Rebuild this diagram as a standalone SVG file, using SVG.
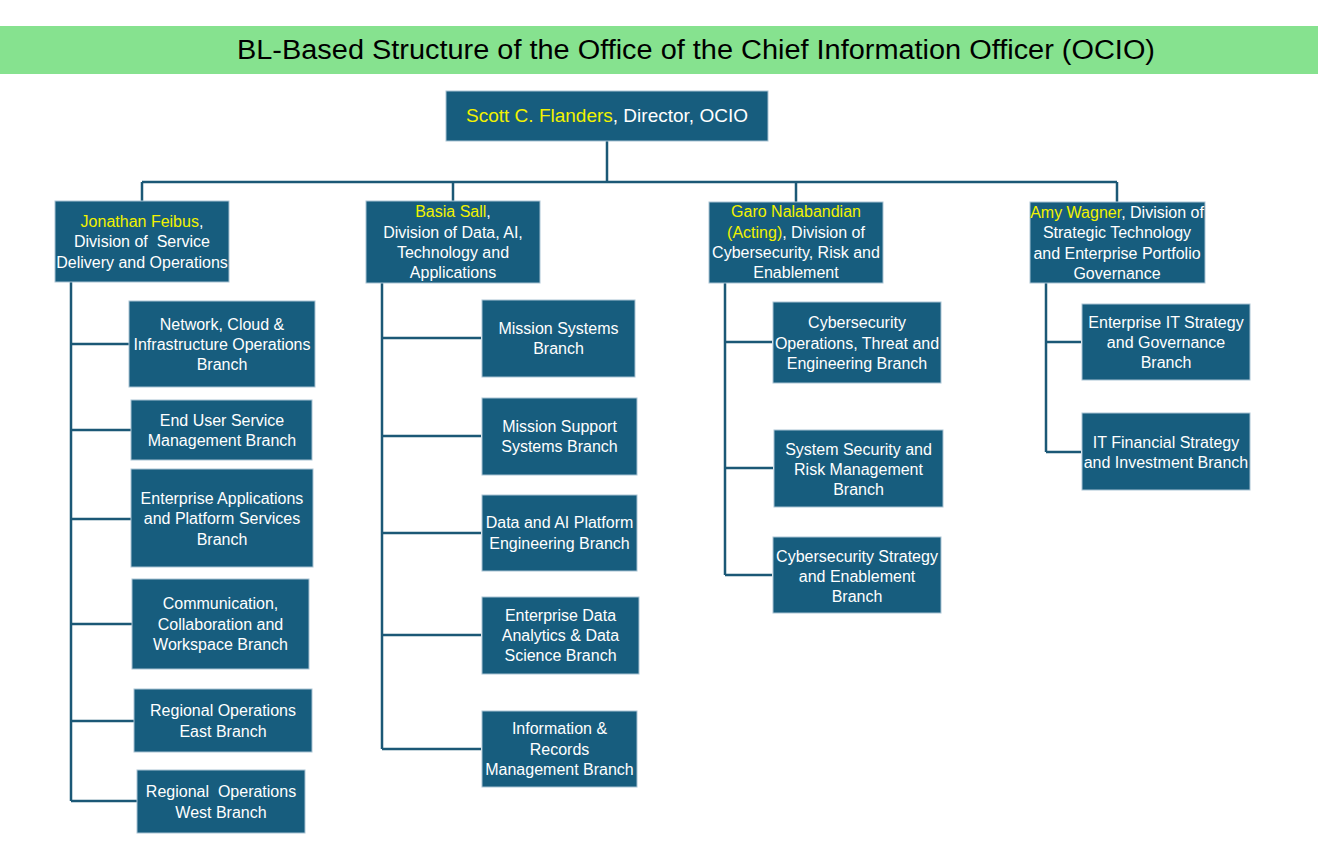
<svg xmlns="http://www.w3.org/2000/svg" width="1318" height="860" viewBox="0 0 1318 860">
<style>
.box{fill:#175D7E;stroke:#A9C3D3;stroke-width:1}
.t{font-family:"Liberation Sans",Arial,sans-serif;font-size:16px;fill:#FFFFFF;text-anchor:middle;white-space:pre}
.y{fill:#F2F200}
.conn{fill:none;stroke:#1B5876;stroke-width:2.5}
</style>
<rect x="0" y="26" width="1318" height="48" fill="#86E28F"/>
<text x="696" y="59" font-family="Liberation Sans,Arial,sans-serif" font-size="27" fill="#000000" text-anchor="middle" textLength="918" lengthAdjust="spacingAndGlyphs">BL-Based Structure of the Office of the Chief Information Officer (OCIO)</text>

<g id="connectors">
<path class="conn" d="M607 141V182M142 182H1117M142 182V201M453 182V201M796 182V202M1117 182V202"/>
<path class="conn" d="M71 282V801M71 344H129M71 430H131M71 519H131M71 624H132M71 721H134M71 801H137"/>
<path class="conn" d="M382 283V749M382 338H481M382 436H481M382 533H481M382 635H481M382 749H481"/>
<path class="conn" d="M725 283V575M725 342H772M725 468H773M725 575H772"/>
<path class="conn" d="M1046 283V452M1046 342H1081M1046 452H1081"/>
</g>

<g id="director">
<rect class="box" x="446" y="91" width="322" height="50"/>
<text class="t" x="607" y="122" style="font-size:19px"><tspan class="y">Scott C. Flanders</tspan>, Director, OCIO</text>
</g>

<g id="div-feibus">
<rect class="box" x="55" y="201" width="174" height="81"/>
<text class="t" x="142" y="227"><tspan class="y">Jonathan Feibus</tspan>,</text>
<text class="t" x="142" y="247">Division of  Service</text>
<text class="t" x="142" y="268">Delivery and Operations</text>
</g>

<g id="div-sall">
<rect class="box" x="366" y="201" width="174" height="82"/>
<text class="t" x="453" y="217"><tspan class="y">Basia Sall</tspan>,</text>
<text class="t" x="453" y="238">Division of Data, AI,</text>
<text class="t" x="453" y="258">Technology and</text>
<text class="t" x="453" y="278">Applications</text>
</g>

<g id="div-nalabandian">
<rect class="box" x="709" y="202" width="174" height="81"/>
<text class="t" x="796" y="217"><tspan class="y">Garo Nalabandian</tspan></text>
<text class="t" x="796" y="238"><tspan class="y">(Acting)</tspan>, Division of</text>
<text class="t" x="796" y="258">Cybersecurity, Risk and</text>
<text class="t" x="796" y="278">Enablement</text>
</g>

<g id="div-wagner">
<rect class="box" x="1030" y="202" width="175" height="81"/>
<text class="t" x="1117" y="218"><tspan class="y">Amy Wagner</tspan>, Division of</text>
<text class="t" x="1117" y="238">Strategic Technology</text>
<text class="t" x="1117" y="259">and Enterprise Portfolio</text>
<text class="t" x="1117" y="279">Governance</text>
</g>

<g id="br-network">
<rect class="box" x="129" y="301" width="186" height="86"/>
<text class="t" x="222" y="330">Network, Cloud &amp;</text>
<text class="t" x="222" y="350">Infrastructure Operations</text>
<text class="t" x="222" y="370">Branch</text>
</g>
<g id="br-enduser">
<rect class="box" x="131" y="400" width="181" height="60"/>
<text class="t" x="222" y="426">End User Service</text>
<text class="t" x="222" y="446">Management Branch</text>
</g>
<g id="br-entapps">
<rect class="box" x="131" y="469" width="182" height="98"/>
<text class="t" x="222" y="504">Enterprise Applications</text>
<text class="t" x="222" y="524">and Platform Services</text>
<text class="t" x="222" y="545">Branch</text>
</g>
<g id="br-comm">
<rect class="box" x="132" y="579" width="177" height="90"/>
<text class="t" x="220.5" y="609">Communication,</text>
<text class="t" x="220.5" y="630">Collaboration and</text>
<text class="t" x="220.5" y="650">Workspace Branch</text>
</g>
<g id="br-east">
<rect class="box" x="134" y="689" width="178" height="63"/>
<text class="t" x="223" y="716">Regional Operations</text>
<text class="t" x="223" y="737">East Branch</text>
</g>
<g id="br-west">
<rect class="box" x="137" y="770" width="168" height="63"/>
<text class="t" x="221" y="797">Regional  Operations</text>
<text class="t" x="221" y="818">West Branch</text>
</g>

<g id="br-mission">
<rect class="box" x="482" y="300" width="153" height="77"/>
<text class="t" x="558.5" y="334">Mission Systems</text>
<text class="t" x="558.5" y="354">Branch</text>
</g>
<g id="br-missionsupport">
<rect class="box" x="482" y="398" width="155" height="77"/>
<text class="t" x="559.5" y="432">Mission Support</text>
<text class="t" x="559.5" y="452">Systems Branch</text>
</g>
<g id="br-dataai">
<rect class="box" x="482" y="495" width="155" height="76"/>
<text class="t" x="559.5" y="528">Data and AI Platform</text>
<text class="t" x="559.5" y="549">Engineering Branch</text>
</g>
<g id="br-entdata">
<rect class="box" x="482" y="597" width="157" height="77"/>
<text class="t" x="560.5" y="621">Enterprise Data</text>
<text class="t" x="560.5" y="641">Analytics &amp; Data</text>
<text class="t" x="560.5" y="661">Science Branch</text>
</g>
<g id="br-records">
<rect class="box" x="482" y="711" width="155" height="76"/>
<text class="t" x="559.5" y="734">Information &amp;</text>
<text class="t" x="559.5" y="755">Records</text>
<text class="t" x="559.5" y="775">Management Branch</text>
</g>

<g id="br-cyberops">
<rect class="box" x="773" y="302" width="168" height="81"/>
<text class="t" x="857" y="328">Cybersecurity</text>
<text class="t" x="857" y="349">Operations, Threat and</text>
<text class="t" x="857" y="369">Engineering Branch</text>
</g>
<g id="br-syssec">
<rect class="box" x="774" y="430" width="169" height="77"/>
<text class="t" x="858.5" y="455">System Security and</text>
<text class="t" x="858.5" y="475">Risk Management</text>
<text class="t" x="858.5" y="495">Branch</text>
</g>
<g id="br-cyberstrat">
<rect class="box" x="773" y="537" width="168" height="76"/>
<text class="t" x="857" y="562">Cybersecurity Strategy</text>
<text class="t" x="857" y="582">and Enablement</text>
<text class="t" x="857" y="602">Branch</text>
</g>

<g id="br-entit">
<rect class="box" x="1082" y="304" width="168" height="76"/>
<text class="t" x="1166" y="328">Enterprise IT Strategy</text>
<text class="t" x="1166" y="348">and Governance</text>
<text class="t" x="1166" y="368">Branch</text>
</g>
<g id="br-itfin">
<rect class="box" x="1082" y="413" width="168" height="77"/>
<text class="t" x="1166" y="448">IT Financial Strategy</text>
<text class="t" x="1166" y="468">and Investment Branch</text>
</g>
</svg>
